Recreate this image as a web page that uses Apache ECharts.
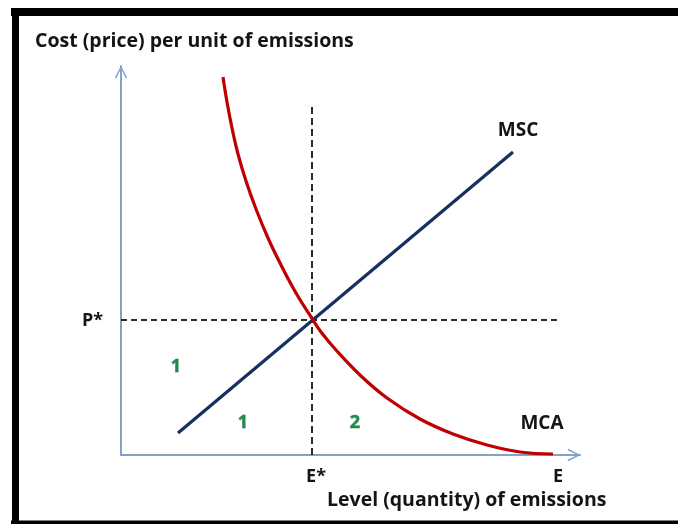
<!DOCTYPE html>
<html>
<head>
<meta charset="utf-8">
<title>MSC / MCA</title>
<script src="https://cdn.jsdelivr.net/npm/echarts@6/dist/echarts.min.js"></script>
<style>
  html, body { margin: 0; padding: 0; background: #fff; }
  #chart { width: 678px; height: 524px; }
</style>
</head>
<body>
<div id="chart"></div>
<script>
// marginal cost of abatement curve (emission level, cost)
const mcaPoints = [
  [102, 378], [106, 353], [111, 327], [117, 301], [125, 274],
  [135, 246], [147, 217], [160, 190], [175, 162], [192, 135],
  [200, 123], [215, 105], [240, 79], [266, 57], [299, 36],
  [332, 21], [366, 10], [399, 3], [432, 1]
]
// marginal social cost line
const mscPoints = [[57, 22], [392, 303]]

// optimum
const eStar = 191
const pStar = 135
const vDashTop = 351
const hDashEnd = 439

// tick labels
const xTickValues = [195, 437]
const xTickLabels = ['E*', 'E']
const yTickValues = [134.5]
const yTickLabels = ['P*']

// text annotations on the plot
const notes = [
  { text: 'MSC', value: [397, 324], kind: 'curve' },
  { text: 'MCA', value: [421, 31], kind: 'curve' },
  { text: '1', value: [55, 88], kind: 'area' },
  { text: '1', value: [122, 32], kind: 'area' },
  { text: '2', value: [234, 32], kind: 'area' }
]

const xMax = 459
const yMax = 389

const FONT = '"Open Sans", "Noto Sans", sans-serif'
const textColor = '#141414'
const axisColor = '#84a2c9'
// open chevron, pointing up like the built-in arrow
const chevron = 'path://M0,10 L5,0 L10,10 L8.9,10.6 L5,2.5 L1.1,10.6 Z'

const chart = echarts.init(document.getElementById('chart'), null, { renderer: 'canvas' })

const baseAxis = {
  type: 'value',
  min: 0,
  splitLine: { show: false },
  axisTick: { show: false },
  axisLine: {
    show: true,
    symbol: ['none', chevron],
    symbolSize: [15, 13],
    symbolOffset: [0, -6],
    lineStyle: { color: axisColor, width: 2 }
  }
}

chart.setOption({
  animation: false,
  backgroundColor: '#fff',
  grid: { left: 121, right: 678 - 580, top: 66, bottom: 524 - 455 },
  xAxis: {
    ...baseAxis,
    max: xMax,
    axisLabel: {
      customValues: xTickValues,
      formatter: (v) => xTickLabels[xTickValues.indexOf(v)],
      margin: 13,
      color: textColor,
      fontFamily: FONT,
      fontWeight: 'bold',
      fontSize: 18
    }
  },
  yAxis: {
    ...baseAxis,
    max: yMax,
    axisLabel: {
      customValues: yTickValues,
      formatter: (v) => yTickLabels[yTickValues.indexOf(v)],
      margin: 18,
      color: textColor,
      fontFamily: FONT,
      fontWeight: 'bold',
      fontSize: 18
    }
  },
  graphic: [
    // picture frame
    { type: 'rect', shape: { x: 11, y: 8, width: 667, height: 8 }, style: { fill: '#000' } },
    { type: 'rect', shape: { x: 12, y: 8, width: 7, height: 516 }, style: { fill: '#000' } },
    { type: 'rect', shape: { x: 11, y: 520.5, width: 667, height: 4 }, style: { fill: '#000' } },
    {
      type: 'text', x: 35, y: 41,
      style: {
        text: 'Cost (price) per unit of emissions', fill: textColor,
        font: 'bold 19.5px ' + FONT, verticalAlign: 'middle'
      }
    },
    {
      type: 'text', x: 327, y: 500,
      style: {
        text: 'Level (quantity) of emissions', fill: textColor,
        font: 'bold 19.5px ' + FONT, verticalAlign: 'middle'
      }
    }
  ],
  series: [
    {
      type: 'line',
      data: [[eStar, 0], [eStar, vDashTop]],
      symbol: 'none',
      lineStyle: { color: '#2b2b2b', width: 2, type: [7, 4] },
      silent: true
    },
    {
      type: 'line',
      data: [[0, pStar], [hDashEnd, pStar]],
      symbol: 'none',
      lineStyle: { color: '#2b2b2b', width: 2, type: [6, 4] },
      silent: true
    },
    {
      name: 'MSC',
      type: 'line',
      data: mscPoints,
      symbol: 'none',
      lineStyle: { color: '#17305f', width: 3.2 }
    },
    {
      name: 'MCA',
      type: 'line',
      data: mcaPoints,
      smooth: 0.4,
      symbol: 'none',
      lineStyle: { color: '#c00000', width: 3.2 }
    },
    {
      type: 'scatter',
      symbolSize: 0,
      silent: true,
      itemStyle: { opacity: 1 },
      data: notes.map((n) => ({
        value: n.value,
        label: {
          show: true,
          position: 'inside',
          formatter: n.text,
          fontFamily: FONT,
          fontWeight: 'bold',
          fontSize: n.kind === 'area' ? 18 : 19,
          color: n.kind === 'area' ? '#1f8a4c' : textColor,
          textBorderColor: n.kind === 'area' ? 'rgba(20,90,50,0.45)' : 'transparent',
          textBorderWidth: n.kind === 'area' ? 1 : 0
        }
      }))
    }
  ]
})
</script>
</body>
</html>
